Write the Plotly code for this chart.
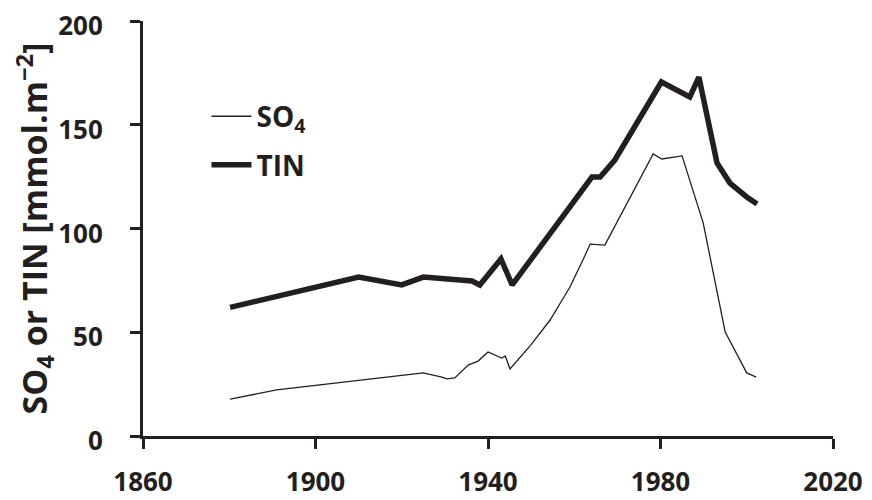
import plotly.graph_objects as go

so4_years = [1880.2, 1891, 1915, 1925, 1929.3, 1930.5, 1932.3, 1935.4, 1937.7, 1940, 1943.2, 1944, 1945.1,
             1950, 1954.4, 1959, 1962, 1963.7, 1967.1, 1978.3, 1980.3, 1985, 1989.9, 1995, 2000, 2002.2]
so4_values = [17.8, 22.2, 28, 30.4, 28.4, 27.5, 28, 34.2, 36.1, 40.5, 37.6, 38.6, 32.3,
              44, 55.9, 71.8, 84.8, 92.5, 92, 135.9, 133.5, 135, 102.7, 50.1, 30.4, 28.4]

tin_years = [1880.2, 1910, 1920, 1925, 1936.3, 1938.1, 1943, 1945.6, 1964.1, 1966, 1969.4, 1980.2,
             1986.8, 1988.9, 1993.1, 1996.1, 2000, 2002.4]
tin_values = [62, 76.6, 72.8, 76.6, 74.7, 72.8, 85.3, 72.8, 124.8, 124.8, 133, 170.6,
              163.4, 173, 131.6, 121.9, 115.2, 111.8]

x_ticks = [1860, 1900, 1940, 1980, 2020]
y_ticks = [0, 50, 100, 150, 200]

ink = "#231f20"
font_family = "Open Sans"

fig = go.Figure()
fig.add_trace(go.Scatter(x=so4_years, y=so4_values, mode="lines", name="SO<sub>4</sub>",
                         legendgroup="so4", line=dict(color=ink, width=1.3)))
fig.add_trace(go.Scatter(x=tin_years, y=tin_values, mode="lines", name="TIN",
                         legendgroup="tin", line=dict(color=ink, width=5.5)))

fig.update_layout(
    width=872, height=500,
    margin=dict(l=135, r=47, t=13, b=72, autoexpand=False),
    paper_bgcolor="white", plot_bgcolor="white",
    font=dict(family=font_family, color=ink, size=26),
    showlegend=True,
    legend=dict(x=0.092, y=0.83, xanchor="left", yanchor="top",
                font=dict(size=28, family=font_family, color=ink, weight="bold"),
                bgcolor="rgba(0,0,0,0)", tracegroupgap=9, itemwidth=40),
)
fig.update_xaxes(range=[1860, 2020], tickvals=x_ticks, ticktext=[str(v) for v in x_ticks],
                 showgrid=False, zeroline=False, showline=True, linecolor=ink, linewidth=3,
                 ticks="outside", ticklen=10, tickwidth=3, tickcolor=ink, ticklabelstandoff=11,
                 automargin=False, ticklabeloverflow="allow",
                 tickfont=dict(size=26, family=font_family, color=ink, weight="bold"))
fig.update_yaxes(range=[0, 200], tickvals=y_ticks, ticktext=[str(v) for v in y_ticks],
                 showgrid=False, zeroline=False, showline=True, linecolor=ink, linewidth=3,
                 ticks="outside", ticklen=10, tickwidth=3, tickcolor=ink, ticklabelstandoff=22,
                 ticklabelshift=5,
                 automargin=False, ticklabeloverflow="allow",
                 tickfont=dict(size=26, family=font_family, color=ink, weight="bold"),
                 title=dict(text="SO<sub>4</sub> or TIN [mmol.m<sup>−2</sup>]", standoff=12,
                            font=dict(size=34, family=font_family, color=ink, weight="bold")))

fig.write_html("out.html")
